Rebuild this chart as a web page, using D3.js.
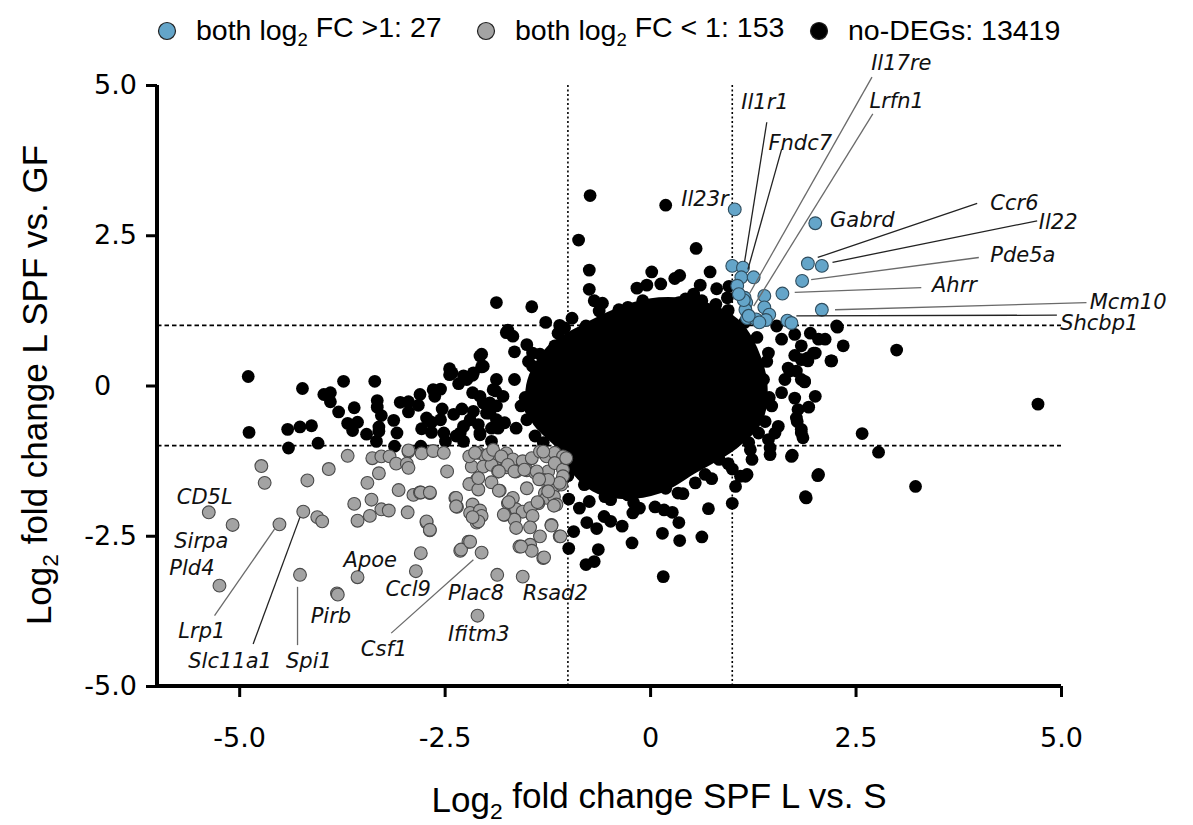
<!DOCTYPE html>
<html><head><meta charset="utf-8">
<script src="https://cdn.jsdelivr.net/npm/d3@7"></script>
<style>body{margin:0;background:#fff}</style>
</head><body>
<svg id="chart" width="1193" height="825"></svg>
<script>
// ---------- data ----------
const xTicks = [-5, -2.5, 0, 2.5, 5];
const xTickLabels = ["-5.0", "-2.5", "0", "2.5", "5.0"];
const yTicks = [-5, -2.5, 0, 2.5, 5];
const yTickLabels = ["-5.0", "-2.5", "0", "2.5", "5.0"];
const thresholds = [-1, 1];

const legendItems = [
  {name: "both log", sub: "2", rest: " FC >1: 27", key: "up"},
  {name: "both log", sub: "2", rest: " FC < 1: 153", key: "down"},
  {name: "no-DEGs: 13419", sub: "", rest: "", key: "none"}
];

// dense centre of the no-DEG cloud (outline of the solid black region)
const coreOutline = [
  [-0.31,1.27],[0.11,1.40],[0.59,1.35],[0.84,1.23],[1.08,1.00],[1.26,0.60],[1.38,0.00],
  [1.32,-0.57],[1.02,-1.00],[0.53,-1.40],[0.11,-1.73],[-0.38,-1.82],[-0.68,-1.70],
  [-0.92,-1.40],[-1.10,-1.00],[-1.40,-0.57],[-1.46,0.00],[-1.22,0.60],[-0.74,1.00]
];

// scattered no-DEG points outside the dense centre
const noDegPoints = [
  [-4.89,0.15],[-4.88,-0.78],[-4.41,-0.73],[-4.40,-1.04],[-4.26,-0.69],[-4.12,-0.67],[-4.04,-0.96],
  [-4.23,-0.05],[-3.97,-0.15],[-3.89,-0.12],[-3.89,-0.27],[-3.79,-0.44],[-3.73,0.07],[-3.68,-0.63],
  [-3.60,-0.37],[-3.56,-0.61],[-3.62,-0.75],[-3.45,-0.81],[-3.35,0.07],[-3.32,-0.25],[-3.32,-0.36],
  [-3.27,-0.50],[-3.30,-0.69],[-3.30,-0.76],[-3.33,-0.93],[-3.12,-0.58],[-3.08,-0.79],[-3.11,-1.01],
  [-3.04,-0.28],[-2.94,-0.27],[-2.94,-0.44],[-2.82,-0.33],[-2.80,-0.15],[-2.72,-0.54],[-2.66,-0.61],
  [-2.78,-0.72],[-2.66,-0.78],[-2.79,-1.01],[-2.64,-0.07],[-2.55,-0.06],[-2.62,-0.18],[-2.53,-0.39],
  [-2.55,-0.57],[-2.51,-0.79],[-2.49,-0.93],[-2.44,0.28],[-2.44,0.18],[-2.39,-0.48],[-2.33,0.03],
  [-2.29,-0.39],[-2.27,-0.68],[-2.36,-0.84],[-2.27,-0.93],[-2.23,0.10],[-2.16,0.17],[-2.16,-0.12],
  [-2.15,-0.43],[-2.07,0.49],[-2.05,0.31],[-2.07,-0.18],[-2.03,-0.29],[-2.09,-0.65],[-2.07,-0.82],
  [-1.95,-0.29],[-1.93,-0.71],[-1.93,-0.93],[-1.99,-0.46],[-1.87,1.38],[-1.87,0.10],[-1.88,-0.09],
  [-1.87,-0.34],[-1.87,-0.57],[-2.41,0.21],[-2.27,0.16],[-2.15,0.21],[-2.03,0.32],[-1.91,-0.07],
  [-1.79,-0.18],[-1.65,0.10],[-1.57,-0.34],[-1.38,0.04],[-1.43,0.32],[-1.24,0.32],[-1.95,-0.46],
  [-1.85,-0.71],[-1.77,-0.62],[-1.63,-0.71],[-1.50,-0.57],[-1.40,-0.84],[-1.26,-0.71],[-2.19,-0.57],
  [-2.31,-0.79],[-2.07,-0.79],[-2.05,0.52],
  [-0.73,3.16],[0.19,3.00],[-0.87,2.42],[0.56,2.28],[-0.74,1.92],[-0.74,1.60],[0.02,1.89],[0.30,1.78],
  [0.36,1.83],[0.73,1.89],[-0.16,1.62],[-0.04,1.67],[0.13,1.69],[0.61,1.67],[0.81,1.61],[0.96,1.65],
  [0.53,1.52],[-0.68,1.41],[-0.58,1.37],[-0.62,1.24],[-0.09,1.41],[0.01,1.30],[0.21,1.33],[0.35,1.38],
  [0.43,1.44],[0.63,1.41],[0.80,1.35],[0.94,1.46],[-1.44,1.31],[-1.27,1.05],[-1.73,0.92],[-1.67,0.82],
  [-1.50,0.68],[-1.65,0.56],[-1.43,0.54],[-1.34,0.52],[-1.12,0.87],[-1.04,0.96],[-1.16,0.66],
  [-0.78,0.99],[-0.66,1.00],[-0.54,1.05],[-0.38,1.26],[-0.27,1.30],[-1.75,0.88],
  [1.54,0.99],[1.60,0.77],[1.76,0.85],[1.95,0.87],[2.05,0.77],[2.13,0.77],[2.27,0.99],[2.21,0.41],
  [1.84,0.43],[1.99,0.54],[1.92,0.41],[1.70,0.24],[1.84,0.10],[1.88,0.07],[1.44,0.54],[1.38,0.10],
  [1.76,-0.21],[1.80,-0.40],[1.78,-0.54],[1.84,-0.73],[1.86,-0.87],[2.01,-0.18],[1.60,-0.12],
  [1.48,-0.34],[1.56,-0.68],[1.44,-0.90],[1.46,-1.15],[1.72,-1.18],[2.05,-1.48],[1.90,-1.87],
  [1.16,-1.51],[1.04,-1.68],[1.00,-1.96],[1.22,-1.07],[1.32,-0.79],
  [2.28,0.97],[2.35,0.66],[2.20,0.41],[3.00,0.59],[4.72,-0.31],[1.84,0.66],[1.76,0.50],[1.92,0.46],
  [2.01,0.54],[1.68,0.29],[1.78,0.24],[1.64,0.10],[1.88,0.06],[1.93,-0.36],[1.79,-0.60],[1.84,-0.79],
  [1.52,-0.79],[2.58,-0.80],[2.78,-1.11],[1.46,-1.04],[1.73,-1.16],[2.04,-1.50],[3.23,-1.68],
  [1.89,-1.85],[1.00,-1.39],[1.10,-1.51],[1.18,-1.48],[1.24,-1.23],
  [-0.99,-1.89],[-0.99,-2.71],[-0.93,-2.43],[-0.78,-2.98],[-0.68,-2.93],[-0.65,-2.38],[-0.63,-2.73],
  [-0.77,-2.28],[-0.86,-2.04],[-0.74,-1.93],[-0.56,-2.18],[-0.48,-2.26],[-0.34,-2.34],[-0.22,-2.62],
  [-0.27,-1.82],[-0.21,-2.12],[-0.13,-2.04],[0.06,-2.02],[0.17,-2.07],[0.27,-2.11],[0.34,-1.79],
  [0.35,-2.28],[0.15,-2.46],[0.36,-2.58],[0.16,-3.18],[0.71,-2.05],[0.63,-2.52],[0.55,-1.62],
  [0.67,-1.48],[0.19,-1.71],[-0.07,-1.68],[-0.48,-1.90],[0.84,-1.23],
  [-1.48,0.40],[-1.52,-0.20],[-1.45,-0.40],[-1.30,-0.95],[-1.15,-1.20],[-1.00,-1.50],[-0.80,-1.65],
  [-0.95,1.12],[-1.10,1.00],[0.95,1.25],[1.15,1.05],[1.30,0.80],[1.42,0.40],[1.45,-0.20],[1.40,-0.60],
  [1.20,-0.95],[0.95,-1.30],[0.75,-1.55],[0.40,-1.80],[-0.20,-1.95],[-0.55,-1.85]
];

// both log2 FC < -1 (grey)
const downPoints = [
  [-2.94,-1.10],[-2.78,-1.13],[-2.09,-1.12],[-2.01,-1.17],[-1.91,-1.18],[-1.83,-1.21],[-1.75,-1.13],
  [-1.67,-1.23],[-1.55,-1.26],[-1.44,-1.21],[-1.34,-1.10],[-1.26,-1.18],[-1.16,-1.12],[-1.06,-1.18],
  [-2.17,-1.35],[-2.03,-1.35],[-1.93,-1.32],[-1.85,-1.43],[-1.75,-1.36],[-1.63,-1.43],[-1.50,-1.41],
  [-1.40,-1.45],[-1.24,-1.43],[-1.16,-1.29],[-1.06,-1.40],[-2.11,-1.57],[-1.93,-1.61],[-1.83,-1.75],
  [-1.50,-1.71],[-1.30,-1.57],[-1.24,-1.75],[-1.16,-1.68],[-1.08,-1.65],[-1.28,-1.79],[-1.26,-1.87],
  [-1.17,-1.85],[-1.14,-1.98],[-1.36,-1.96],[-1.67,-1.87],[-1.73,-1.96],[-1.63,-2.06],[-1.55,-2.10],
  [-1.46,-2.04],[-1.43,-2.17],[-1.77,-2.15],[-1.65,-2.23],[-1.63,-2.37],[-1.46,-2.36],[-1.34,-2.51],
  [-1.20,-2.32],[-1.10,-2.51],[-2.37,-1.87],[-2.35,-2.02],[-2.16,-1.98],[-2.19,-2.12],[-2.07,-2.08],
  [-2.05,-2.17],[-2.11,-2.28],[-2.88,-1.82],[-2.80,-1.78],[-2.68,-1.79],[-2.21,-2.60],[-2.31,-2.75],
  [-2.05,-2.78],[-2.95,-2.11],[-2.72,-2.28],[-2.68,-2.41],[-2.79,-2.79],[-1.59,-2.68],[-1.46,-2.65],
  [-1.44,-2.75],[-1.30,-2.87],
  [-4.73,-1.34],[-4.69,-1.62],[-5.37,-2.11],[-5.08,-2.32],[-5.24,-3.33],[-4.51,-2.31],[-4.22,-2.10],
  [-4.05,-2.19],[-3.99,-2.26],[-4.26,-3.15],[-4.17,-1.58],[-3.91,-1.39],[-3.68,-1.17],[-3.81,-3.46],
  [-3.80,-3.48],[-3.56,-3.19],[-3.44,-1.62],[-3.39,-1.90],[-3.60,-1.97],[-3.56,-2.25],[-3.41,-2.17],
  [-3.27,-2.06],[-3.18,-2.08],[-3.30,-1.46],[-3.38,-1.21],[-3.27,-1.18],[-3.17,-1.18],[-3.09,-1.30],
  [-2.96,-1.30],[-2.94,-1.37],[-2.94,-1.08],[-3.06,-1.74],[-2.85,-3.09],[-2.64,-1.09],[-2.51,-1.12],
  [-2.47,-1.43],[-1.86,-3.15],[-1.55,-3.18],[-2.10,-3.83],[-2.20,-1.18],[-2.13,-1.12],[-2.20,-1.64],
  [-2.09,-1.73],[-2.09,-2.26],[-2.16,-2.19],[-1.29,-2.86],[-1.09,-2.51],[-1.06,-1.51],[-1.10,-1.62],
  [-1.02,-1.21],[-2.09,-1.54],[-1.97,-1.15],[-1.91,-1.07],[-1.81,-1.18],[-1.73,-1.32],[-1.84,-1.43],
  [-1.65,-1.43],[-1.53,-1.40],[-1.38,-1.43],[-1.30,-1.10],[-1.24,-1.57],[-1.35,-1.56],[-1.24,-1.76],
  [-1.17,-2.00],[-1.37,-1.94],[-1.72,-1.94],[-1.84,-1.75],[-1.78,-2.15],[-1.57,-2.68],[-1.20,-2.33],
  [-2.30,-2.73],[-2.19,-2.60],[-2.36,-1.87],[-2.36,-2.01],[-2.72,-2.26],[-2.68,-2.40],[-2.79,-1.78],
  [-2.68,-1.78]
];

// both log2 FC > 1 (blue)
const upPoints = [
  [1.03,2.93],[2.01,2.70],[1.92,2.03],[2.09,1.99],[1.85,1.74],[1.61,1.53],[2.09,1.26],[1.67,1.08],
  [1.72,1.04],[1.00,1.99],[1.13,1.96],[1.11,1.80],[1.26,1.80],[1.06,1.66],[1.15,1.46],[1.17,1.38],
  [1.39,1.49],[1.39,1.30],[1.16,1.26],[1.45,1.18],[1.18,1.12],[1.29,1.10],[1.41,1.09],[1.14,1.42],
  [1.20,1.16],[1.33,1.05],[1.08,1.52]
];

// gene labels: text anchor (data units) and optional leader line [from, to]
const geneLabels = [
  {gene:"Il17re", at:[2.69,5.38], line:[[2.70,5.13],[1.21,1.53]], dark:false},
  {gene:"Lrfn1",  at:[2.67,4.74], line:[[2.71,4.52],[1.26,1.32]], dark:false},
  {gene:"Il1r1",  at:[1.11,4.72], line:[[1.42,4.38],[1.15,2.06]], dark:true},
  {gene:"Fndc7",  at:[1.44,4.05], line:[[1.60,3.93],[1.19,1.93]], dark:true},
  {gene:"Il23r",  at:[0.38,3.12], line:null},
  {gene:"Gabrd",  at:[2.19,2.77], line:null},
  {gene:"Ccr6",   at:[4.14,3.05], line:[[3.98,3.03],[2.04,2.13]], dark:true},
  {gene:"Il22",   at:[4.73,2.73], line:[[4.71,2.74],[2.22,2.05]], dark:true},
  {gene:"Pde5a",  at:[4.14,2.18], line:[[4.00,2.13],[1.96,1.76]], dark:false},
  {gene:"Ahrr",   at:[3.43,1.68], line:[[3.30,1.63],[1.76,1.55]], dark:false},
  {gene:"Mcm10",  at:[5.35,1.40], line:[[5.31,1.38],[2.25,1.26]], dark:false},
  {gene:"Shcbp1", at:[4.99,1.05], line:[[4.95,1.17],[1.78,1.16]], dark:true},
  {gene:"CD5L",   at:[-5.76,-1.85], line:null},
  {gene:"Sirpa",  at:[-5.79,-2.57], line:null},
  {gene:"Pld4",   at:[-5.85,-3.02], line:null},
  {gene:"Lrp1",   at:[-5.74,-4.07], line:[[-5.30,-3.83],[-4.57,-2.39]], dark:false},
  {gene:"Slc11a1",at:[-5.62,-4.57], line:[[-4.83,-4.30],[-4.26,-2.19]], dark:true},
  {gene:"Spi1",   at:[-4.43,-4.57], line:[[-4.29,-4.32],[-4.29,-3.35]], dark:false},
  {gene:"Pirb",   at:[-4.13,-3.82], line:null},
  {gene:"Apoe",   at:[-3.73,-2.90], line:null},
  {gene:"Ccl9",   at:[-3.22,-3.37], line:null},
  {gene:"Csf1",   at:[-3.52,-4.37], line:[[-3.15,-4.12],[-2.15,-2.90]], dark:false},
  {gene:"Plac8",  at:[-2.46,-3.45], line:null},
  {gene:"Rsad2",  at:[-1.55,-3.45], line:null},
  {gene:"Ifitm3", at:[-2.46,-4.12], line:null}
];

// ---------- drawing ----------
const svg = d3.select("#chart");
const x = d3.scaleLinear().domain([-6, 5]).range([157, 1061]);
const y = d3.scaleLinear().domain([-5, 5]).range([686, 85]);
const colors = {up: "#64a5c9", down: "#a3a3a3", none: "#000"};
const R = 6.4;

// threshold lines
const gL = svg.append("g");
thresholds.forEach(t => {
  gL.append("line").attr("x1", x(t)).attr("x2", x(t)).attr("y1", y(5)).attr("y2", y(-5))
    .attr("stroke", "#000").attr("stroke-width", 1.6).attr("stroke-dasharray", "2,2.5");
  gL.append("line").attr("x1", x(-6)).attr("x2", x(5)).attr("y1", y(t)).attr("y2", y(t))
    .attr("stroke", "#000").attr("stroke-width", 1.6).attr("stroke-dasharray", "4.5,3");
});

// dense core
svg.append("path").datum(coreOutline)
  .attr("d", d3.line().x(d => x(d[0])).y(d => y(d[1])).curve(d3.curveCatmullRomClosed))
  .attr("fill", "#000").attr("stroke", "#000").attr("stroke-width", 8).attr("stroke-linejoin", "round");

svg.append("g").selectAll("circle").data(noDegPoints).join("circle")
  .attr("cx", d => x(d[0])).attr("cy", d => y(d[1])).attr("r", R).attr("fill", "#000");

svg.append("g").selectAll("circle").data(downPoints).join("circle")
  .attr("cx", d => x(d[0])).attr("cy", d => y(d[1])).attr("r", R)
  .attr("fill", colors.down).attr("stroke", "#4a4a4a").attr("stroke-width", 1.1);

svg.append("g").selectAll("circle").data(upPoints).join("circle")
  .attr("cx", d => x(d[0])).attr("cy", d => y(d[1])).attr("r", R)
  .attr("fill", colors.up).attr("stroke", "#2f4d5e").attr("stroke-width", 1.1);

// leader lines + labels
const gLab = svg.append("g");
geneLabels.filter(d => d.line).forEach(d => {
  gLab.append("line").attr("x1", x(d.line[0][0])).attr("y1", y(d.line[0][1]))
    .attr("x2", x(d.line[1][0])).attr("y2", y(d.line[1][1]))
    .attr("stroke", d.dark ? "#222" : "#6a6a6a").attr("stroke-width", 1.3);
});
gLab.selectAll("text").data(geneLabels).join("text")
  .attr("x", d => x(d.at[0])).attr("y", d => y(d.at[1])).attr("dy", "0.36em")
  .attr("font-family", "DejaVu Sans").attr("font-style", "italic").attr("font-size", 21)
  .attr("fill", "#111").text(d => d.gene);

// axes
const xAxis = d3.axisBottom(x).tickValues(xTicks).tickFormat((d, i) => xTickLabels[i])
  .tickSizeInner(11).tickSizeOuter(0).tickPadding(31);
const yAxis = d3.axisLeft(y).tickValues(yTicks).tickFormat((d, i) => yTickLabels[i])
  .tickSizeInner(11).tickSizeOuter(0).tickPadding(9);
const gx = svg.append("g").attr("transform", `translate(0,${y(-5)})`).call(xAxis);
const gy = svg.append("g").attr("transform", `translate(${x(-6)},0)`).call(yAxis);
[gx, gy].forEach(g => {
  g.select(".domain").attr("stroke-width", 4).attr("stroke", "#000");
  g.selectAll(".tick line").attr("stroke-width", 3).attr("stroke", "#000");
  g.selectAll(".tick text").attr("font-family", "DejaVu Sans").attr("font-size", 27).attr("fill", "#000");
});
gy.select(".domain").attr("d", `M0,${y(-5) + 2}V${y(5)}`);
gx.select(".domain").attr("d", `M${x(-6) - 2},0H${x(5)}`);
// decimal alignment for the "0" label on y axis
gy.selectAll(".tick text").filter(d => d === 0).each(function () {
  const t = svg.append("text").attr("font-family", "DejaVu Sans").attr("font-size", 27).text(".0");
  const w = t.node().getComputedTextLength(); t.remove();
  d3.select(this).attr("x", -20 - w);
});

// axis titles
function subTitle(g, pre, post) {
  g.append("tspan").text(pre);
  g.append("tspan").attr("font-size", "0.65em").attr("dy", "0.3em").text("2");
  g.append("tspan").attr("dy", "-0.3em").text(post);
}
const xt = svg.append("text").attr("x", 659).attr("y", 812).attr("text-anchor", "middle")
  .attr("font-family", "Liberation Sans, Arial").attr("font-size", 35);
subTitle(xt, "Log", " fold change SPF L vs. S");
const yt = svg.append("text").attr("transform", "translate(51,385) rotate(-90)").attr("text-anchor", "middle")
  .attr("font-family", "Liberation Sans, Arial").attr("font-size", 35);
subTitle(yt, "Log", " fold change L  SPF vs. GF");

// legend
const legX = [167, 486, 819];
legendItems.forEach((d, i) => {
  const g = svg.append("g");
  g.append("circle").attr("cx", legX[i]).attr("cy", 31).attr("r", 8.5)
    .attr("fill", colors[d.key]).attr("stroke", "#222").attr("stroke-width", 1.2);
  const t = g.append("text").attr("x", legX[i] + 29).attr("y", 40)
    .attr("font-family", "Liberation Sans, Arial").attr("font-size", 28.5).attr("fill", "#000");
  t.append("tspan").text(d.name);
  if (d.sub) {
    t.append("tspan").attr("font-size", "0.65em").attr("dy", "0.3em").text(d.sub);
    t.append("tspan").attr("dy", "-0.3em").text(d.rest);
  }
});
</script>
</body></html>
